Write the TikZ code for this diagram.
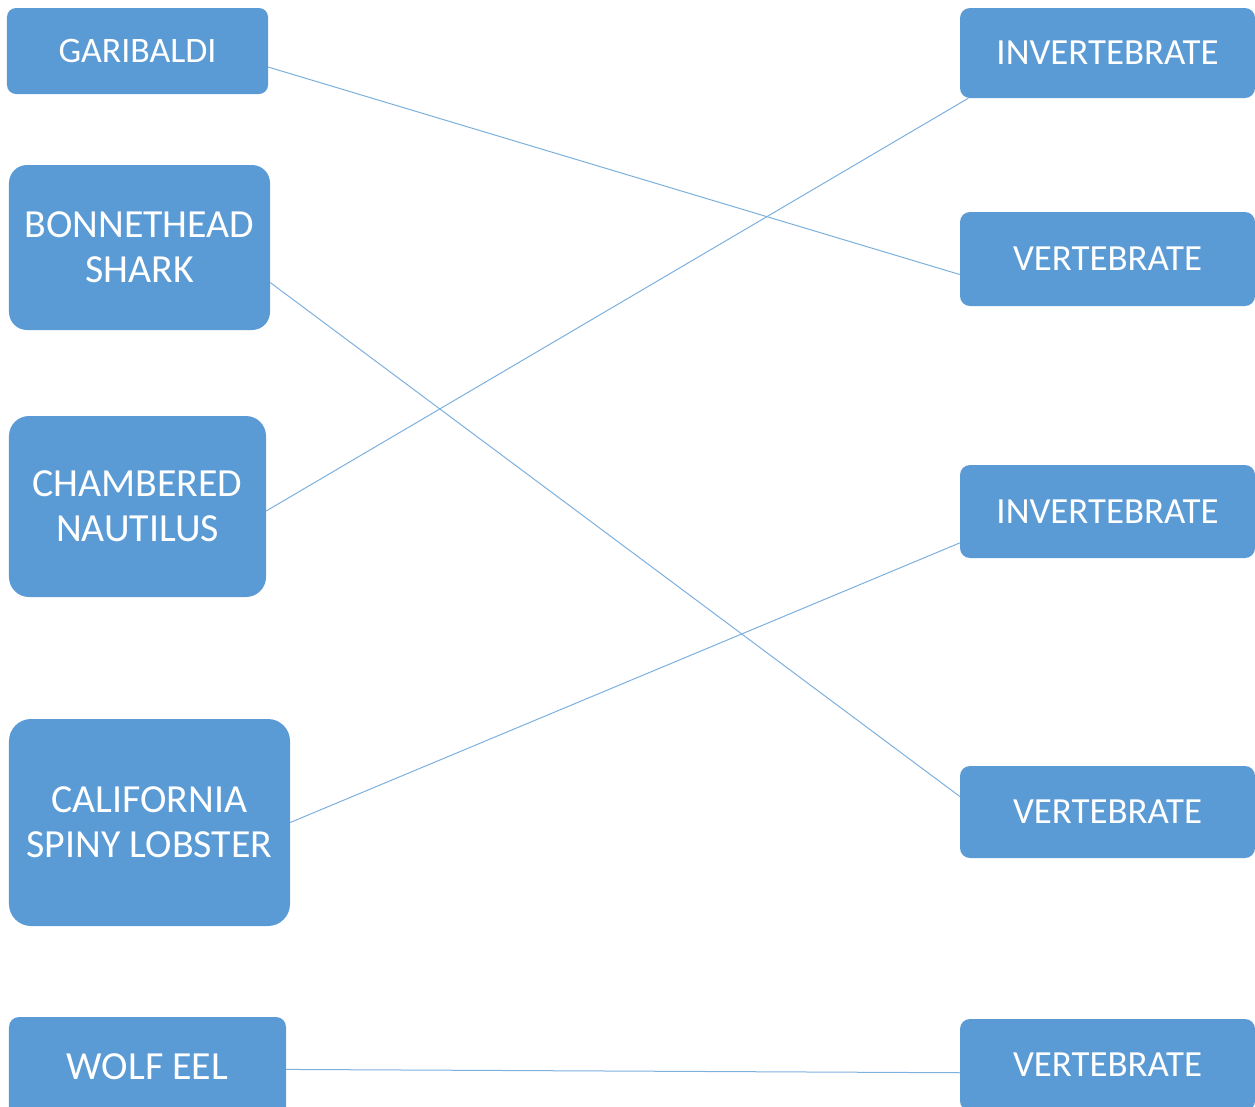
\documentclass[tikz,border=0pt]{standalone}
\usepackage{fontspec}
\setmainfont{Carlito}
\definecolor{boxblue}{HTML}{5B9BD5}
\definecolor{lineblue}{HTML}{7EB0DE}
\begin{document}
\begin{tikzpicture}[x=1bp,y=-1bp,
  box/.style={fill=boxblue, draw=none, text=white, align=center,
    font=\fontsize{37}{45}\selectfont, inner sep=0pt, anchor=center},
  bigtext/.style={font=\fontsize{40}{45}\selectfont},
  link/.style={draw=lineblue, line width=1bp}]
\useasboundingbox (0,0) rectangle (1255,1107);
\clip (0,0) rectangle (1255,1107);
% left column
\node[box, font=\fontsize{36}{45}\selectfont, rounded corners=9bp, minimum width=261bp, minimum height=86bp] (gar) at (137.5,51) {GARIBALDI};
\node[box, bigtext, rounded corners=18bp, minimum width=261bp, minimum height=165bp] (bon) at (139.5,247.5) {BONNETHEAD\\SHARK};
\node[box, bigtext, rounded corners=20bp, minimum width=257bp, minimum height=181bp] (cha) at (137.5,506.5) {CHAMBERED\\NAUTILUS};
\node[box, bigtext, rounded corners=22bp, minimum width=281bp, minimum height=207bp] (cal) at (149.5,822.5) {CALIFORNIA\\SPINY LOBSTER};
\node[box, bigtext, rounded corners=10bp, minimum width=277bp, minimum height=100bp] (wol) at (147.5,1067) {WOLF EEL};
% right column
\node[box, rounded corners=10bp, minimum width=295bp, minimum height=90bp] (inv1) at (1107.5,53) {INVERTEBRATE};
\node[box, rounded corners=10bp, minimum width=295bp, minimum height=94bp] (ver1) at (1107.5,259) {VERTEBRATE};
\node[box, rounded corners=10bp, minimum width=295bp, minimum height=93bp] (inv2) at (1107.5,511.5) {INVERTEBRATE};
\node[box, rounded corners=10bp, minimum width=295bp, minimum height=92bp] (ver2) at (1107.5,812) {VERTEBRATE};
\node[box, rounded corners=10bp, minimum width=295bp, minimum height=92bp] (ver3) at (1107.5,1065) {VERTEBRATE};
% connectors
\draw[link] (gar.-7.4) -- (ver1.186.6);
\draw[link] (bon.-15.2) -- (ver2.174.2);
\draw[link] (cha.-2) -- (inv1.-162);
\draw[link] (cal.east) -- (inv2.192);
\draw[link] (wol.-1.7) -- (ver3.183.5);
\end{tikzpicture}
\end{document}
